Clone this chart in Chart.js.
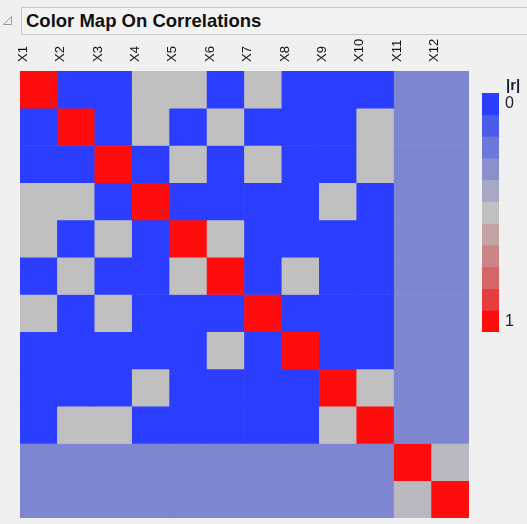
<!DOCTYPE html>
<html><head><meta charset="utf-8">
<script src="https://cdn.jsdelivr.net/npm/chart.js@4/dist/chart.umd.min.js"></script>
<style>
html,body{margin:0;padding:0;background:#f0f0f0;width:527px;height:524px;overflow:hidden;font-family:"Liberation Sans",Arial,sans-serif;}
#main{position:absolute;left:0;top:0;}
#bar{position:absolute;left:470px;top:80px;}
#titlebox{position:absolute;left:21px;top:7px;width:515px;height:28px;border:1px solid #c8c8c8;box-sizing:border-box;background:#f2f2f2;}
#title{position:absolute;left:26px;top:9px;font-weight:bold;font-size:18.5px;color:#111;line-height:24px;white-space:nowrap;}
#tri{position:absolute;left:2px;top:15px;}
#rlab{position:absolute;left:506px;top:77px;font-weight:bold;font-size:15px;color:#1c1c3c;line-height:16px;}
</style></head>
<body>
<canvas id="main" width="527" height="524"></canvas>
<div id="titlebox"></div>
<svg id="tri" width="11" height="11"><polygon points="9.5,1.5 9.5,9.5 1.5,9.5" fill="none" stroke="#9a9a9a" stroke-width="1"/></svg>
<div id="title">Color Map On Correlations</div>
<canvas id="bar" width="57" height="260"></canvas>
<div id="rlab">|r|</div>
<script>
// Variables (categories)
const variables = ['X1','X2','X3','X4','X5','X6','X7','X8','X9','X10','X11','X12'];
// |r| values per row
const rX1  = [1, 0, 0, 0.5, 0.5, 0, 0.5, 0, 0, 0, 0.26, 0.26];
const rX2  = [0, 1, 0, 0.5, 0, 0.5, 0, 0, 0, 0.5, 0.26, 0.26];
const rX3  = [0, 0, 1, 0, 0.5, 0, 0.5, 0, 0, 0.5, 0.26, 0.26];
const rX4  = [0.5, 0.5, 0, 1, 0, 0, 0, 0, 0.5, 0, 0.26, 0.26];
const rX5  = [0.5, 0, 0.5, 0, 1, 0.5, 0, 0, 0, 0, 0.26, 0.26];
const rX6  = [0, 0.5, 0, 0, 0.5, 1, 0, 0.5, 0, 0, 0.26, 0.26];
const rX7  = [0.5, 0, 0.5, 0, 0, 0, 1, 0, 0, 0, 0.26, 0.26];
const rX8  = [0, 0, 0, 0, 0, 0.5, 0, 1, 0, 0, 0.26, 0.26];
const rX9  = [0, 0, 0, 0.5, 0, 0, 0, 0, 1, 0.5, 0.26, 0.26];
const rX10 = [0, 0.5, 0.5, 0, 0, 0, 0, 0, 0.5, 1, 0.26, 0.26];
const rX11 = [0.26, 0.26, 0.26, 0.26, 0.26, 0.26, 0.26, 0.26, 0.26, 0.26, 1, 0.47];
const rX12 = [0.26, 0.26, 0.26, 0.26, 0.26, 0.26, 0.26, 0.26, 0.26, 0.26, 0.47, 1];
const rows = [rX1, rX2, rX3, rX4, rX5, rX6, rX7, rX8, rX9, rX10, rX11, rX12];
// Colour scale steps for |r| = 0, 0.1, ..., 1
const legendColors = ['#2b3dff','#4b5ce9','#6c78d9','#8a90cc','#a7a9c4','#c0c0c0','#c4a3a4','#cc8587','#d86566','#e63d3e','#ff0d0d'];
const legendTicks = ['0','1'];

function hexToRgb(h){return [parseInt(h.slice(1,3),16),parseInt(h.slice(3,5),16),parseInt(h.slice(5,7),16)];}
function colorFor(v){
  const t = Math.max(0, Math.min(1, v)) * (legendColors.length - 1);
  const i = Math.min(legendColors.length - 2, Math.floor(t));
  const f = t - i;
  const a = hexToRgb(legendColors[i]), b = hexToRgb(legendColors[i+1]);
  const c = a.map((x,k)=>Math.round(x + (b[k]-x)*f));
  return 'rgb(' + c.join(',') + ')';
}

new Chart(document.getElementById('main'), {
  type: 'bar',
  data: {
    labels: variables,
    datasets: rows.map((row, ri) => ({
      label: variables[ri],
      data: row.map(() => 1),
      backgroundColor: row.map(colorFor),
      borderWidth: 0,
      barPercentage: 1,
      categoryPercentage: 1,
      stack: 'm'
    }))
  },
  options: {
    responsive: false,
    animation: false,
    events: [],
    layout: {padding: {left: 20, right: 58, top: 0, bottom: 6}},
    plugins: {legend: {display: false}, tooltip: {enabled: false}, title: {display: false}},
    scales: {
      x: {
        position: 'top',
        stacked: true,
        grid: {display: false, drawTicks: false},
        border: {display: false},
        ticks: {minRotation: 90, maxRotation: 90, autoSkip: false, padding: 9, color: '#111',
                font: {family: 'Liberation Sans', size: 13}},
        afterFit: s => { s.height = 71; }
      },
      y: {display: false, stacked: true, reverse: true, min: 0, max: 12}
    }
  }
});

new Chart(document.getElementById('bar'), {
  type: 'bar',
  data: {
    labels: [''],
    datasets: legendColors.map(c => ({data: [1], backgroundColor: c, borderWidth: 0, barPercentage: 1, categoryPercentage: 1}))
  },
  options: {
    responsive: false,
    animation: false,
    events: [],
    layout: {padding: {left: 12, top: 13, bottom: 8, right: 0}},
    plugins: {legend: {display: false}, tooltip: {enabled: false}},
    scales: {
      x: {display: false, stacked: true},
      y: {
        position: 'right', stacked: true, reverse: true, min: 0, max: 11,
        grid: {display: false, drawTicks: false},
        border: {display: false},
        afterBuildTicks: s => { s.ticks = [{value: 0.5}, {value: 10.5}]; },
        ticks: {padding: 6, color: '#1c1c2c', font: {family: 'Liberation Sans', size: 16},
                callback: (v, i) => legendTicks[i]},
        afterFit: s => { s.width = 28; s.paddingTop = 0; s.paddingBottom = 0; }
      }
    }
  }
});
</script>
</body></html>
